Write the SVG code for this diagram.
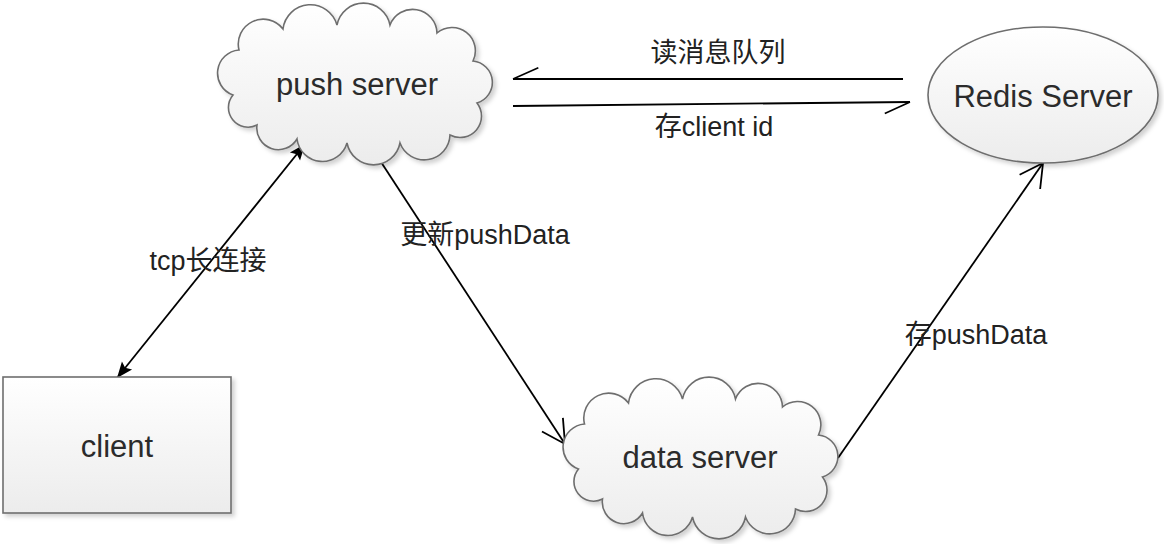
<svg xmlns="http://www.w3.org/2000/svg" width="1164" height="544" viewBox="0 0 1164 544">
  <style>
    .node { fill: url(#nodeFill); stroke: #6e6e6e; stroke-width: 1.6; filter: url(#shadow); }
    .nlabel { font-family: "Liberation Sans", Arial, sans-serif; font-size: 31px; fill: #2b2b2b; text-anchor: middle; }
    .elabel { font-family: "Liberation Sans", "Noto Sans CJK SC", sans-serif; font-size: 27px; fill: #222; text-anchor: middle; }
    .edge { fill: none; stroke: #000; stroke-width: 1.8; }
  </style>
  <defs>
    <linearGradient id="nodeFill" x1="0" y1="0" x2="0" y2="1">
      <stop offset="0" stop-color="#ffffff"/>
      <stop offset="1" stop-color="#ececec"/>
    </linearGradient>
    <filter id="shadow" x="-10%" y="-10%" width="125%" height="130%">
      <feDropShadow dx="3" dy="3" stdDeviation="2" flood-color="#000" flood-opacity="0.18"/>
    </filter>
    <path id="cloud" d="M -122 12 A 23.2 23.2 0 0 1 -116 -33 A 24.9 24.9 0 0 1 -72 -54 A 27.6 27.6 0 0 1 -18 -58 A 27 27 0 0 1 35 -58 A 24.3 24.3 0 0 1 82 -50 A 23.3 23.3 0 0 1 118 -22 A 21.5 21.5 0 0 1 122 20 A 21.4 21.4 0 0 1 95 52 A 25.8 25.8 0 0 1 45 60 A 27 27 0 0 1 -8 60 A 25.6 25.6 0 0 1 -58 56 A 21.6 21.6 0 0 1 -98 42 A 19.6 19.6 0 0 1 -122 12 Z"/>
    <marker id="filled" markerUnits="userSpaceOnUse" markerWidth="20" markerHeight="16" viewBox="-18 -8 20 16" refX="0" refY="0" orient="auto-start-reverse" overflow="visible">
      <path d="M 0 0 L -16 -6.5 L -13 0 L -16 6.5 Z" fill="#000"/>
    </marker>
    <marker id="open" markerUnits="userSpaceOnUse" markerWidth="30" markerHeight="30" viewBox="-28 -15 30 30" refX="0" refY="0" orient="auto" overflow="visible">
      <path d="M -23 -12.5 L 0 0 L -23 12.5" fill="none" stroke="#000" stroke-width="1.8"/>
    </marker>
    <marker id="half" markerUnits="userSpaceOnUse" markerWidth="30" markerHeight="30" viewBox="-30 -15 32 30" refX="0" refY="0" orient="auto" overflow="visible">
      <path d="M 0 0 L -27 12" fill="none" stroke="#000" stroke-width="1.8"/>
    </marker>
  </defs>

  <g id="connectors">
    <line class="edge" x1="903" y1="79" x2="513" y2="79" marker-end="url(#half)"/>
    <line class="edge" x1="513" y1="106" x2="910" y2="102" marker-end="url(#half)"/>
    <line class="edge" x1="305" y1="144" x2="117" y2="378" marker-start="url(#filled)" marker-end="url(#filled)"/>
    <line class="edge" x1="381" y1="162" x2="565" y2="444" marker-end="url(#open)"/>
    <line class="edge" x1="838" y1="458" x2="1043" y2="163" marker-end="url(#open)"/>
    <text class="elabel" x="718" y="62">读消息队列</text>
    <text class="elabel" x="714" y="136">存client id</text>
    <text class="elabel" x="208" y="270">tcp长连接</text>
    <text class="elabel" x="485" y="244">更新pushData</text>
    <text class="elabel" x="976" y="344">存pushData</text>
  </g>

  <g id="push-server">
    <use href="#cloud" class="node" transform="translate(355,83)"/>
    <text class="nlabel" x="357" y="95">push server</text>
  </g>

  <g id="redis-server">
    <ellipse class="node" cx="1043" cy="95" rx="115" ry="68"/>
    <text class="nlabel" x="1043" y="107">Redis Server</text>
  </g>

  <g id="client">
    <rect class="node" x="3" y="377" width="228" height="136"/>
    <text class="nlabel" x="117" y="457">client</text>
  </g>

  <g id="data-server">
    <use href="#cloud" class="node" transform="translate(700.5,457)"/>
    <text class="nlabel" x="700" y="468">data server</text>
  </g>
</svg>
